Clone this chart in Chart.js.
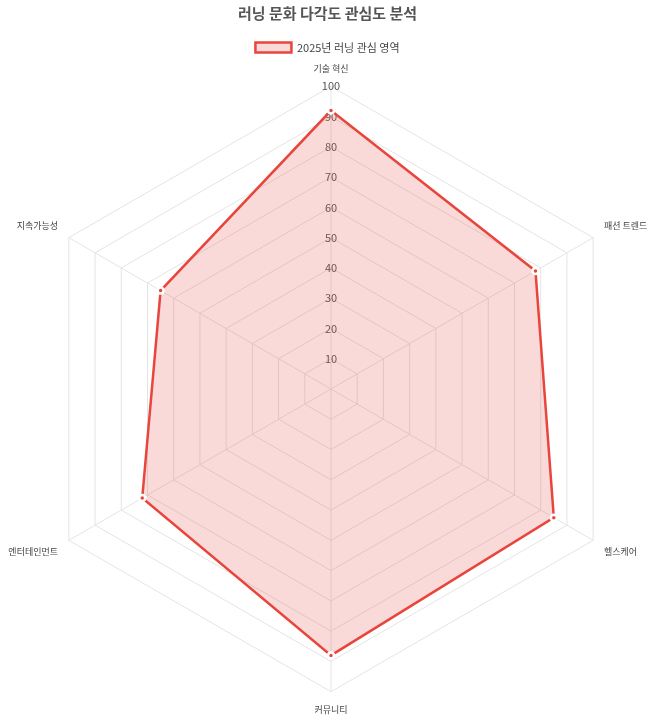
<!DOCTYPE html>
<html lang="ko">
<head>
  <meta charset="UTF-8">
  <title>러닝 문화 다각도 관심도 분석</title>
  <script src="https://cdn.jsdelivr.net/npm/chart.js"></script>
  <style>
    html, body { margin: 0; padding: 0; background: #fff; }
    #wrap { width: 655px; height: 720px; }
  </style>
</head>
<body>
  <div id="wrap"><canvas id="myChart"></canvas></div>
  <script>
    const categories = ['기술 혁신', '패션 트렌드', '헬스케어', '커뮤니티', '엔터테인먼트', '지속가능성'];
    const values = [92, 78, 85, 88, 72, 65];
    const seriesLabel = '2025년 러닝 관심 영역';

    Chart.defaults.font.family = "'Noto Sans CJK KR', 'Noto Sans', sans-serif";

    new Chart(document.getElementById('myChart'), {
      type: 'radar',
      data: {
        labels: categories,
        datasets: [{
          label: seriesLabel,
          data: values,
          borderColor: '#e8453c',
          backgroundColor: 'rgba(232, 69, 60, 0.2)',
          borderWidth: 2.5,
          pointBackgroundColor: '#e8453c',
          pointBorderColor: '#fff',
          pointRadius: 3
        }]
      },
      options: {
        responsive: true,
        maintainAspectRatio: false,
        animation: false,
        layout: { padding: { left: 0, right: 0, top: 0, bottom: 4 } },
        plugins: {
          title: {
            display: true,
            text: '러닝 문화 다각도 관심도 분석',
            color: '#555',
            font: { size: 15, weight: 'bold' },
            padding: { top: 4, bottom: 10 }
          },
          legend: {
            position: 'top',
            labels: { color: '#444', font: { size: 11 }, boxWidth: 36, boxHeight: 10 }
          }
        },
        scales: {
          r: {
            min: 0,
            max: 100,
            ticks: { stepSize: 10, color: '#555', font: { size: 11 }, showLabelBackdrop: false },
            grid: { color: '#e4e4e4' },
            angleLines: { color: '#e4e4e4' },
            pointLabels: { color: '#444', font: { size: 9 } }
          }
        }
      }
    });
  </script>
</body>
</html>
